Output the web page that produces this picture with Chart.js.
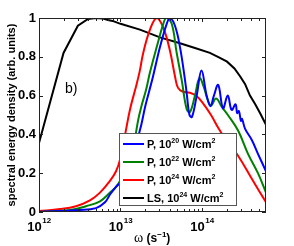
<!DOCTYPE html>
<html>
<head>
<meta charset="utf-8">
<script src="https://cdn.jsdelivr.net/npm/chart.js@4.4.0/dist/chart.umd.min.js"></script>
<style>
    html, body { margin: 0; padding: 0; background: #fff; }
    #wrap { position: relative; width: 294px; height: 246px; font-family: "Liberation Sans", Arial, sans-serif; }
    #legend { position: absolute; left: 119px; top: 133px; width: 116px; height: 71px; border: 1px solid #555; background: #fff; }
    .item { position: absolute; left: 0; height: 18px; line-height: 18px; font-size: 11px; font-weight: bold; white-space: nowrap; }
    .item i { position: absolute; left: 3px; top: 8px; width: 21px; height: 2px; }
    .item span { position: absolute; left: 27px; top: 0; }
    sup { font-size: 7px; vertical-align: 5px; line-height: 0; }
    #xtitle { position: absolute; left: 134px; top: 230px; font-size: 12px; white-space: nowrap; }
    #xtitle .w { font-family: "Liberation Serif", serif; font-size: 14px; }
    #xtitle b sup { font-size: 8px; }
    #panel { position: absolute; left: 65px; top: 80px; font-size: 14px; }
</style>
</head>
<body>
<div id="wrap">
    <canvas id="myChart" width="294" height="246"></canvas>
    <div id="panel">b)</div>
    <div id="legend"></div>
    <div id="xtitle"><span class="w">ω</span> <b>(s<sup>−1</sup>)</b></div>
</div>
<script>
// readings (omega in s^-1, density in arb. units)
const omegaBlue = [1e12, 3.18e12, 5.0e12, 6.45e12, 7.43e12, 8.81e12, 9.86e12, 1.2e13, 1.42e13, 1.6e13, 1.8e13, 2.0e13, 2.24e13, 2.51e13, 3.05e13, 3.69e13, 4.05e13, 4.66e13, 5.37e13, 6.19e13, 6.54e13, 7.02e13, 7.54e13, 8.61e13, 9.86e13, 1.14e14, 1.27e14, 1.4e14, 1.58e14, 1.81e14, 2.07e14, 2.31e14, 2.58e14, 2.7e14, 2.84e14, 3.0e14, 3.1e14, 3.37e14, 4.1e14, 4.86e14, 6.1e14];
const blue = [0, 0.01, 0.02, 0.05, 0.09, 0.13, 0.15, 0.2, 0.3, 0.37, 0.45, 0.54, 0.62, 0.70, 0.85, 0.97, 1.0, 0.96, 0.85, 0.68, 0.6, 0.5, 0.49, 0.6, 0.73, 0.6, 0.545, 0.6, 0.655, 0.535, 0.6, 0.526, 0.555, 0.51, 0.52, 0.47, 0.48, 0.43, 0.37, 0.30, 0.21];

const omegaGreen = [1e12, 2.4e12, 3.77e12, 5.6e12, 7.43e12, 8.81e12, 9.86e12, 1.24e13, 1.42e13, 1.64e13, 1.82e13, 2.06e13, 2.3e13, 2.78e13, 3.35e13, 3.65e13, 4.25e13, 4.89e13, 5.64e13, 6.49e13, 7.12e13, 8.2e13, 9.31e13, 1.06e14, 1.15e14, 1.29e14, 1.49e14, 1.76e14, 2.08e14, 2.77e14, 3.67e14, 4.86e14, 6.1e14];
const green = [0, 0.01, 0.03, 0.055, 0.1, 0.13, 0.16, 0.25, 0.32, 0.47, 0.55, 0.63, 0.72, 0.85, 0.97, 1.0, 0.97, 0.82, 0.68, 0.53, 0.515, 0.6, 0.69, 0.64, 0.59, 0.55, 0.585, 0.54, 0.5, 0.42, 0.3, 0.2, 0.1];

const omegaRed = [1e12, 1.81e12, 2.84e12, 4.22e12, 5.6e12, 7.43e12, 8.81e12, 9.86e12, 1.14e13, 1.31e13, 1.58e13, 1.73e13, 1.9e13, 2.3e13, 2.78e13, 3.35e13, 4.05e13, 4.66e13, 5.08e13, 5.85e13, 7.12e13, 8.44e13, 1.03e14, 1.29e14, 1.6e14, 1.91e14, 2.77e14, 4.1e14, 6.1e14];
const red = [0.005, 0.015, 0.03, 0.06, 0.1, 0.16, 0.21, 0.27, 0.4, 0.53, 0.66, 0.73, 0.82, 0.94, 1.0, 0.95, 0.83, 0.70, 0.64, 0.62, 0.615, 0.60, 0.56, 0.50, 0.43, 0.38, 0.29, 0.17, 0.05];

const omegaBlack = [1e12, 2e12, 3e12, 4e12, 5e12, 6e12, 7e12, 8e12, 1e13, 1.73e13, 3.05e13, 5.37e13, 8.2e13, 1.25e14, 1.66e14, 2.03e14, 2.5e14, 2.93e14, 3.37e14, 3.88e14, 4.5e14, 5.15e14, 6.1e14];
const black = [0.356, 0.82, 0.96, 0.995, 1.0, 0.998, 0.99, 0.985, 0.97, 0.94, 0.90, 0.87, 0.845, 0.82, 0.795, 0.775, 0.74, 0.70, 0.66, 0.60, 0.555, 0.51, 0.45];

const seriesNames = ['P', 'P', 'P', 'LS'];
const intensityExps = [20, 22, 24, 24];
const seriesColors = ['#0000ff', '#008000', '#ff0000', '#000000'];

const yTicks = [0, 0.2, 0.4, 0.6, 0.8, 1];
const yTickLabels = ['0', '0.2', '0.4', '0.6', '0.8', '1'];
const xDecades = [12, 13, 14];

const FONT = '"Liberation Sans", Arial, sans-serif';

function points(xs, ys) {
    return ys.map((v, i) => ({ x: xs[i], y: v }));
}

// frame, inward ticks and 10^n labels
const frameTicks = {
    id: 'frameTicks',
    afterDraw(chart) {
        const { ctx, chartArea: a, scales: { x, y } } = chart;
        ctx.save();
        ctx.strokeStyle = '#222';
        ctx.lineWidth = 1;
        ctx.strokeRect(a.left + 0.5, a.top + 0.5, a.right - a.left - 1, a.bottom - a.top - 1);
        ctx.beginPath();
        yTicks.forEach(v => {
            const py = Math.round(y.getPixelForValue(v)) + 0.5;
            ctx.moveTo(a.left, py); ctx.lineTo(a.left + 4, py);
            ctx.moveTo(a.right, py); ctx.lineTo(a.right - 4, py);
        });
        for (let e = 12; e <= 14; e++) {
            for (let m = 1; m <= 9; m++) {
                const v = m * Math.pow(10, e);
                if (v > x.max) break;
                const px = Math.round(x.getPixelForValue(v)) + 0.5;
                const len = m === 1 ? 4 : 3;
                ctx.moveTo(px, a.bottom); ctx.lineTo(px, a.bottom - len);
                ctx.moveTo(px, a.top); ctx.lineTo(px, a.top + len);
            }
        }
        ctx.stroke();

        ctx.fillStyle = '#000';
        ctx.textBaseline = 'alphabetic';
        xDecades.forEach(e => {
            const px = x.getPixelForValue(Math.pow(10, e));
            ctx.font = 'bold 13px ' + FONT;
            const w1 = ctx.measureText('10').width;
            ctx.font = 'bold 8px ' + FONT;
            const w2 = ctx.measureText(String(e)).width;
            const left = px - (w1 + w2) / 2;
            ctx.font = 'bold 13px ' + FONT;
            ctx.fillText('10', left, 231);
            ctx.font = 'bold 8px ' + FONT;
            ctx.fillText(String(e), left + w1 + 0.5, 223);
        });
        ctx.restore();
    }
};

const ctx = document.getElementById('myChart').getContext('2d');
const myChart = new Chart(ctx, {
    type: 'line',
    data: {
        datasets: [
            { data: points(omegaBlue, blue), borderColor: seriesColors[0], tension: 0.4 },
            { data: points(omegaGreen, green), borderColor: seriesColors[1], tension: 0.4 },
            { data: points(omegaRed, red), borderColor: seriesColors[2], tension: 0.4 },
            { data: points(omegaBlack, black), borderColor: seriesColors[3], tension: 0 }
        ]
    },
    options: {
        responsive: false,
        animation: false,
        layout: { padding: { top: 18, right: 28, left: 0, bottom: 0 } },
        elements: { point: { radius: 0 }, line: { borderWidth: 2 } },
        plugins: { legend: { display: false }, tooltip: { enabled: false } },
        scales: {
            x: {
                type: 'logarithmic',
                min: 1e12,
                max: 6.1e14,
                grid: { display: false },
                border: { display: false },
                ticks: { display: false },
                afterFit: (s) => { s.height = 34; }
            },
            y: {
                min: 0,
                max: 1,
                afterBuildTicks: (s) => { s.ticks = yTicks.map(v => ({ value: v })); },
                grid: { display: false, drawTicks: false },
                border: { display: false },
                ticks: {
                    color: '#000',
                    padding: 3,
                    font: { family: FONT, size: 13, weight: 'bold' },
                    callback: (v, i) => yTickLabels[i]
                },
                title: {
                    display: true,
                    text: 'spectral energy density (arb. units)',
                    color: '#000',
                    font: { family: FONT, size: 11, weight: 'bold' },
                    padding: { top: 5, bottom: 0 }
                },
                afterFit: (s) => { s.width = 39; }
            }
        }
    },
    plugins: [frameTicks]
});

// legend box
const legend = document.getElementById('legend');
seriesNames.forEach((name, i) => {
    legend.innerHTML += `<div class="item" style="top:${1 + i * 18}px">
        <i style="background:${seriesColors[i]}"></i>
        <span>${name}, 10<sup>${intensityExps[i]}</sup> W/cm<sup>2</sup></span>
    </div>`;
});
</script>
</body>
</html>
